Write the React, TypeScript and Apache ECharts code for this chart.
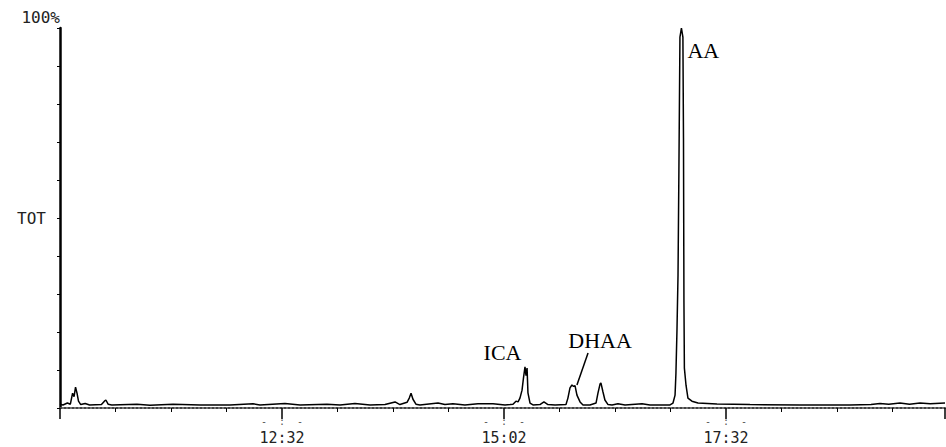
import React, { useEffect, useRef } from "react";
import * as echarts from "echarts";

// retention time in seconds
const times: number[] = [
  602, 604, 607, 609, 610.5, 611.5, 612.5, 613.5, 614.5, 616, 619, 622, 630, 632, 633, 634.5, 637,
  654, 662.8, 678.4, 696.6, 716.9, 732.4, 737.1, 754, 764.2, 782.4, 791.2, 801.3, 811.5, 821.6,
  828.4, 831.7, 836.5, 838, 839.2, 840.5, 842.5, 845.2, 857.4, 862.1, 867.5, 875.6, 884.4, 894.6,
  902.7, 906.1, 908.1, 910.1, 911.5, 912.8, 914.2, 915.2, 916.2, 916.9, 917.6, 918.2, 919.6, 921.6,
  926.3, 929, 931.7, 936.5, 943.9, 945.2, 946.6, 947.9, 949, 950, 951.3, 953.4, 955.4, 960.1,
  964.2, 965.5, 966.9, 967.5, 968.9, 970.2, 972.3, 975, 979, 983.8, 995.3, 1000.6, 1007.4,
  1014.2, 1016.2, 1017.6, 1018.2, 1018.9, 1019.6, 1020.2, 1020.9, 1021.9, 1022.9, 1023.3, 1023.6,
  1023.9, 1025, 1026.3, 1029, 1033.1, 1045.9, 1068.2, 1102, 1135.8, 1150, 1156.1, 1162, 1169.6,
  1176, 1183.1, 1190, 1200,
];

// relative intensity (% of TOT full scale)
const intensity: number[] = [
  1.0, 0.8, 1.3, 1.0, 3.9, 3.0, 5.5, 3.9, 1.8, 0.9, 1.2, 0.8, 0.9, 1.8, 2.1, 1.0, 0.8,
  1.0, 0.7, 1.0, 0.8, 0.8, 1.1, 0.8, 1.2, 0.8, 1.0, 0.8, 1.2, 0.8, 0.9,
  1.6, 0.9, 1.5, 2.6, 3.9, 2.3, 1.0, 0.8, 1.3, 0.9, 1.1, 0.8, 1.1, 1.1,
  0.8, 0.9, 1.0, 1.8, 1.6, 2.6, 4.7, 8.0, 10.8, 8.5, 10.5, 4.0, 1.3, 0.8,
  0.9, 1.6, 0.9, 0.8, 0.9, 2.6, 5.3, 6.05, 5.7, 5.9, 3.4, 1.6, 0.8, 0.8,
  1.3, 3.9, 6.3, 6.6, 4.2, 2.1, 0.9, 0.8, 1.1, 0.8, 1.1, 0.8, 0.8,
  0.8, 1.3, 3.4, 9.2, 20.5, 35, 62.6, 97.6, 100, 97.6, 71, 28,
  10.5, 6.0, 2.6, 1.8, 1.3, 1.05, 0.9, 0.8, 0.8, 0.9, 1.2, 1.0, 1.3,
  1.0, 1.3, 1.1, 1.3,
];

// peak annotations: label, time (s), intensity
const peakLabels: { name: string; t: number; v: number; pos: string }[] = [
  { name: "ICA", t: 901, v: 14.7, pos: "inside" },
  { name: "DHAA", t: 966.9, v: 17.8, pos: "inside" },
  { name: "AA", t: 1024.3, v: 94.1, pos: "right" },
];

// DHAA leader line endpoints
const dhaaLeader: [number, number][] = [
  [958.8, 14.5],
  [951.3, 6.05],
];

const xMin = 602;
const xMax = 1200;
const yMax = 100;

const mono = "DejaVu Sans Mono";
const serif = "Liberation Serif";

function fmtTime(v: number): string {
  const m = Math.floor(v / 60);
  const s = Math.round(v - m * 60);
  return `${m}:${s < 10 ? "0" + s : s}`;
}

export default function App() {
  const ref = useRef<HTMLDivElement>(null);
  useEffect(() => {
    document.body.style.margin = "0";
    const chart = echarts.init(ref.current!, undefined, { renderer: "svg" });
    const data = times.map((t, i) => [t, intensity[i]]);
    chart.setOption({
      animation: false,
      backgroundColor: "#fff",
      grid: {
        left: 60,
        right: 1,
        top: 28,
        bottom: 39,
        containLabel: false,
        outerBoundsMode: "none",
      },
      xAxis: {
        type: "value",
        min: xMin,
        max: xMax,
        interval: 150,
        axisLine: { show: true, lineStyle: { color: "#444", width: 2, type: "dotted" } },
        axisTick: { show: true, length: 11, lineStyle: { color: "#000", width: 1.5 } },
        minorTick: { show: true, splitNumber: 4, length: 4, lineStyle: { color: "#000", width: 1 } },
        splitLine: { show: false },
        minorSplitLine: { show: false },
        axisLabel: {
          margin: 7,
          hideOverlap: false,
          formatter: (v: number) =>
            v <= xMin || v >= xMax ? "" : `{s|-  :  -}\n{m|${fmtTime(v)}}`,
          rich: {
            s: { fontSize: 10, color: "#555", lineHeight: 12, fontFamily: mono },
            m: { fontSize: 15, color: "#222", lineHeight: 21, fontFamily: mono },
          },
        },
      },
      yAxis: {
        type: "value",
        min: 0,
        max: yMax,
        interval: 10,
        name: "100%",
        nameLocation: "end",
        nameGap: 3,
        nameTextStyle: {
          align: "right",
          verticalAlign: "bottom",
          fontFamily: mono,
          fontSize: 16,
          color: "#222",
        },
        axisLine: { show: true, lineStyle: { color: "#000", width: 2.5 } },
        axisTick: { show: true, length: 3, lineStyle: { color: "#000", width: 1 } },
        splitLine: { show: false },
        axisLabel: {
          margin: 14,
          fontFamily: mono,
          fontSize: 16,
          color: "#222",
          formatter: (v: number) => (v === 50 ? "TOT" : ""),
        },
      },
      series: [
        {
          type: "line",
          data,
          showSymbol: false,
          symbol: "none",
          lineStyle: { color: "#000", width: 1.5 },
          markPoint: {
            symbol: "rect",
            symbolSize: [1, 1],
            itemStyle: { color: "rgba(0,0,0,0)" },
            label: {
              show: true,
              fontFamily: serif,
              fontSize: 22,
              color: "#000",
            },
            data: peakLabels.map((p) => ({
              coord: [p.t, p.v],
              value: p.name,
              label: { position: p.pos, distance: 2, formatter: p.name },
            })),
          },
          markLine: {
            symbol: ["none", "none"],
            silent: true,
            label: { show: false },
            lineStyle: { color: "#000", width: 1.5, type: "solid" },
            data: [[{ coord: dhaaLeader[0] }, { coord: dhaaLeader[1] }]],
          },
        },
      ],
    });
    return () => chart.dispose();
  }, []);
  return (
    <div
      ref={ref}
      style={{ position: "absolute", left: 0, top: 0, width: 946, height: 447 }}
    />
  );
}
